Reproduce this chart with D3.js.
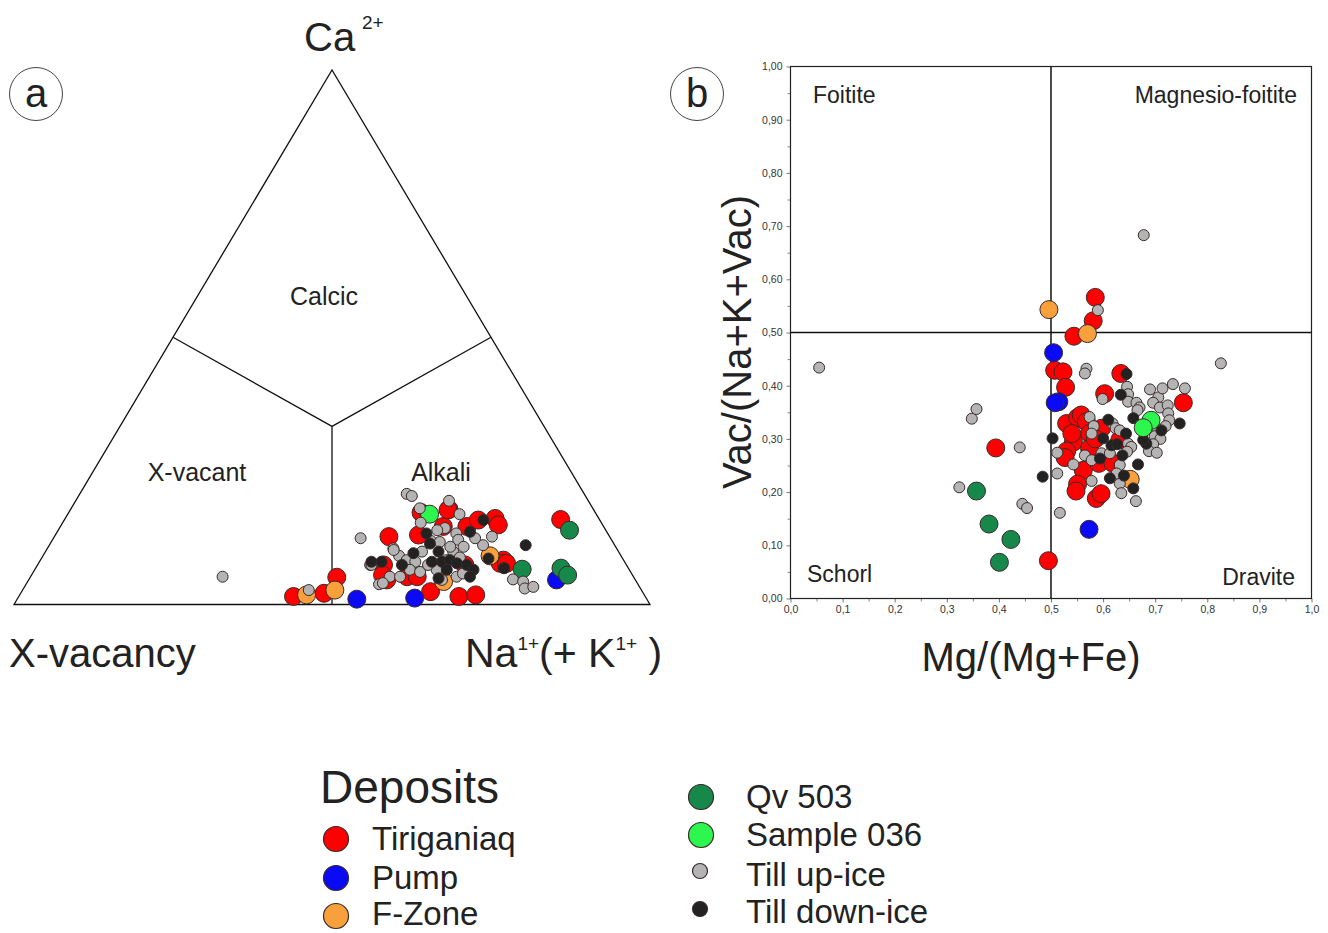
<!DOCTYPE html>
<html>
<head>
<meta charset="utf-8">
<script src="https://cdn.jsdelivr.net/npm/d3@7"></script>
<style>
  html, body { margin: 0; padding: 0; background: #ffffff; }
  svg { display: block; font-family: "Liberation Sans", Arial, sans-serif; }
</style>
</head>
<body>
<svg id="fig" width="1328" height="933"></svg>
<script>
// ---- Series ----
const seriesNames = ["Tiriganiaq", "Pump", "F-Zone", "Qv 503", "Sample 036", "Till up-ice", "Till down-ice"];
const seriesColors = ["#ff0000", "#0a0af5", "#f7a03c", "#16894a", "#2df64e", "#b4b4b4", "#222222"];
const seriesLarge = [true, true, true, true, true, false, false];

// ---- (a) X-site ternary: [Na(+K), Ca]; X-vacancy = 1 - Na - Ca ----
const tiriganiaqX = [[0.432,0.015],[0.477,0.021],[0.482,0.051],[0.643,0.024],[0.692,0.015],[0.717,0.018],[0.526,0.127],[0.554,0.172],[0.595,0.178],[0.602,0.146],[0.571,0.130],[0.639,0.146],[0.651,0.158],[0.676,0.161],[0.687,0.149],[0.728,0.083],[0.544,0.074],[0.592,0.052],[0.563,0.046],[0.726,0.077],[0.780,0.159],[0.552,0.055],[0.608,0.052],[0.736,0.077],[0.672,0.074],[0.594,0.177]];
const pumpX = [[0.534,0.010],[0.624,0.012],[0.830,0.046]];
const fZoneX = [[0.451,0.018],[0.491,0.027],[0.654,0.043],[0.703,0.091]];
const qv503X = [[0.766,0.066],[0.804,0.139],[0.826,0.068],[0.843,0.055]];
const sample036X = [[0.569,0.169]];
const tillUpX = [[0.302,0.052],[0.450,0.027],[0.483,0.124],[0.514,0.207],[0.524,0.203],[0.548,0.180],[0.563,0.153],[0.587,0.194],[0.616,0.169],[0.688,0.127],[0.682,0.111],[0.761,0.047],[0.779,0.043],[0.788,0.030],[0.800,0.033],[0.555,0.038],[0.523,0.074],[0.565,0.052],[0.544,0.105],[0.560,0.091],[0.576,0.083],[0.591,0.080],[0.590,0.065],[0.608,0.061],[0.592,0.099],[0.596,0.119],[0.611,0.117],[0.606,0.143],[0.629,0.133],[0.638,0.121],[0.653,0.108],[0.663,0.124],[0.641,0.099],[0.657,0.088],[0.670,0.052],[0.677,0.058],[0.632,0.065],[0.650,0.046],[0.614,0.074],[0.639,0.083],[0.632,0.108],[0.596,0.139],[0.560,0.040],[0.581,0.052],[0.525,0.074],[0.546,0.102]];
const tillDownX = [[0.659,0.158],[0.649,0.136],[0.749,0.111],[0.736,0.068],[0.703,0.086],[0.538,0.080],[0.573,0.074],[0.582,0.133],[0.597,0.114],[0.618,0.099],[0.633,0.080],[0.644,0.083],[0.658,0.077],[0.648,0.065],[0.675,0.074],[0.690,0.065],[0.643,0.049],[0.617,0.080],[0.580,0.096],[0.691,0.052],[0.522,0.080],[0.737,0.068]];

// ---- (b) Mg/(Mg+Fe) vs Vac/(Na+K+Vac) ----
const tiriganiaqMg = [[0.507,0.429],[0.523,0.426],[0.394,0.283],[0.495,0.071],[0.585,0.566],[0.581,0.522],[0.544,0.493],[0.634,0.423],[0.528,0.397],[0.603,0.385],[0.754,0.368],[0.530,0.329],[0.551,0.340],[0.558,0.345],[0.568,0.332],[0.543,0.294],[0.574,0.310],[0.530,0.277],[0.527,0.265],[0.574,0.282],[0.562,0.241],[0.592,0.254],[0.551,0.215],[0.548,0.202],[0.587,0.188],[0.596,0.197],[0.619,0.254],[0.632,0.298],[0.597,0.320],[0.540,0.310],[0.585,0.300]];
const pumpMg = [[0.505,0.462],[0.515,0.370],[0.508,0.368],[0.573,0.130]];
const fZoneMg = [[0.496,0.543],[0.570,0.498],[0.652,0.224]];
const qv503Mg = [[0.357,0.202],[0.381,0.140],[0.423,0.111],[0.401,0.068]];
const sample036Mg = [[0.692,0.335],[0.677,0.321]];
const tillUpMg = [[0.055,0.434],[0.348,0.338],[0.357,0.356],[0.440,0.284],[0.324,0.209],[0.445,0.178],[0.454,0.170],[0.590,0.542],[0.568,0.432],[0.565,0.423],[0.826,0.442],[0.678,0.683],[0.599,0.375],[0.646,0.398],[0.648,0.384],[0.648,0.370],[0.664,0.368],[0.670,0.359],[0.666,0.354],[0.690,0.393],[0.706,0.378],[0.714,0.395],[0.734,0.403],[0.757,0.395],[0.696,0.368],[0.709,0.359],[0.724,0.363],[0.725,0.348],[0.727,0.335],[0.720,0.324],[0.704,0.318],[0.699,0.305],[0.710,0.300],[0.696,0.290],[0.688,0.277],[0.703,0.274],[0.574,0.341],[0.582,0.324],[0.578,0.310],[0.618,0.329],[0.624,0.320],[0.632,0.316],[0.648,0.291],[0.654,0.285],[0.646,0.276],[0.512,0.274],[0.565,0.269],[0.578,0.260],[0.597,0.273],[0.613,0.273],[0.543,0.252],[0.578,0.221],[0.632,0.251],[0.632,0.216],[0.626,0.235],[0.635,0.198],[0.512,0.235],[0.663,0.183],[0.517,0.161]];
const tillDownMg = [[0.503,0.301],[0.484,0.229],[0.645,0.422],[0.634,0.383],[0.747,0.329],[0.712,0.316],[0.658,0.339],[0.683,0.291],[0.677,0.298],[0.610,0.336],[0.600,0.301],[0.616,0.288],[0.627,0.290],[0.594,0.263],[0.644,0.310],[0.637,0.269],[0.613,0.226],[0.640,0.231],[0.658,0.207],[0.667,0.252]];

// ---- Axis ticks of panel (b) ----
const xTickValues = [0, 0.1, 0.2, 0.3, 0.4, 0.5, 0.6, 0.7, 0.8, 0.9, 1.0];
const yTickValues = [0, 0.1, 0.2, 0.3, 0.4, 0.5, 0.6, 0.7, 0.8, 0.9, 1.0];
const xTickLabels = ["0,0","0,1","0,2","0,3","0,4","0,5","0,6","0,7","0,8","0,9","1,0"];
const yTickLabels = ["0,00","0,10","0,20","0,30","0,40","0,50","0,60","0,70","0,80","0,90","1,00"];

const ternarySets = [tiriganiaqX, pumpX, fZoneX, qv503X, sample036X, tillUpX, tillDownX];
const binarySets = [tiriganiaqMg, pumpMg, fZoneMg, qv503Mg, sample036Mg, tillUpMg, tillDownMg];

const svg = d3.select("#fig");
svg.append("rect").attr("width", 1328).attr("height", 933).attr("fill", "#ffffff");

const R_BIG = 9, R_SMALL = 5.5;
const OUTLINE = "#3a2a2a";

// ================= (a) ternary =================
// projected coordinate u = Na + Ca/2 across the base, Ca up the height
const tx = d3.scaleLinear().domain([0, 1]).range([14, 650]);
const ty = d3.scaleLinear().domain([0, 1]).range([604.5, 70]);
const tern = (na, ca) => [tx(na + ca / 2), ty(ca)];

const gA = svg.append("g");
const line = d3.line();
// outer triangle: X-vacancy, Na, Ca corners
gA.append("path")
  .attr("d", line([tern(0, 0), tern(1, 0), tern(0, 1)]) + "Z")
  .attr("fill", "none").attr("stroke", "#111").attr("stroke-width", 1.3);
// field boundaries through the centroid
const centroid = tern(1 / 3, 1 / 3);
[[tern(0, 0.5), centroid], [tern(0.5, 0.5), centroid], [tern(0.5, 0), centroid]].forEach(seg => {
  gA.append("path").attr("d", line(seg))
    .attr("fill", "none").attr("stroke", "#111").attr("stroke-width", 1.3);
});

gA.append("text").attr("x", 324).attr("y", 305).attr("text-anchor", "middle")
  .attr("font-size", 25).attr("fill", "#222").text("Calcic");
gA.append("text").attr("x", 197).attr("y", 481).attr("text-anchor", "middle")
  .attr("font-size", 25).attr("fill", "#222").text("X-vacant");
gA.append("text").attr("x", 441).attr("y", 481).attr("text-anchor", "middle")
  .attr("font-size", 25).attr("fill", "#222").text("Alkali");

// apex and corner labels
gA.append("text").attr("x", 304).attr("y", 51).attr("font-size", 40).attr("fill", "#222").text("Ca");
gA.append("text").attr("x", 362).attr("y", 29).attr("font-size", 19).attr("fill", "#222").text("2+");
gA.append("text").attr("x", 9).attr("y", 667).attr("font-size", 40).attr("fill", "#222").text("X-vacancy");
const naLab = gA.append("text").attr("x", 465).attr("y", 667).attr("font-size", 41).attr("fill", "#222");
naLab.append("tspan").text("Na");
naLab.append("tspan").attr("font-size", 19).attr("dy", -17).text("1+");
naLab.append("tspan").attr("dy", 17).text("(+ K");
naLab.append("tspan").attr("font-size", 19).attr("dy", -17).text("1+");
naLab.append("tspan").attr("dy", 17).text(" )");

// panel tag a
gA.append("circle").attr("cx", 36).attr("cy", 94).attr("r", 26.5)
  .attr("fill", "none").attr("stroke", "#444").attr("stroke-width", 1);
gA.append("text").attr("x", 36).attr("y", 107).attr("text-anchor", "middle")
  .attr("font-size", 40).attr("fill", "#222").text("a");

const orderA = [0, 1, 2, 3, 4, 5, 6];
orderA.forEach(i => {
  gA.append("g").selectAll("circle").data(ternarySets[i]).join("circle")
    .attr("cx", d => tern(d[0], d[1])[0])
    .attr("cy", d => tern(d[0], d[1])[1])
    .attr("r", seriesLarge[i] ? R_BIG : R_SMALL)
    .attr("fill", seriesColors[i])
    .attr("stroke", OUTLINE).attr("stroke-width", 1);
});

// ================= (b) Mg/(Mg+Fe) vs Vac/(Na+K+Vac) =================
const bx = d3.scaleLinear().domain([0, 1]).range([790.5, 1311.5]);
const by = d3.scaleLinear().domain([0, 1]).range([598.5, 66.5]);
const gB = svg.append("g");

// minor ticks
const minorVals = d3.range(0.05, 1, 0.1);
gB.append("g").attr("transform", "translate(0,598.5)")
  .call(d3.axisBottom(bx).tickValues(minorVals).tickSize(3).tickFormat(""))
  .call(g => g.select(".domain").remove())
  .call(g => g.selectAll("line").attr("stroke", "#888"));
gB.append("g").attr("transform", "translate(790.5,0)")
  .call(d3.axisLeft(by).tickValues(minorVals).tickSize(3).tickFormat(""))
  .call(g => g.select(".domain").remove())
  .call(g => g.selectAll("line").attr("stroke", "#888"));

// major ticks and labels
gB.append("g").attr("transform", "translate(0,598.5)")
  .call(d3.axisBottom(bx).tickValues(xTickValues).tickSize(4).tickPadding(3)
    .tickFormat((d, i) => xTickLabels[i]))
  .call(g => g.select(".domain").remove())
  .call(g => g.selectAll("line").attr("stroke", "#777"))
  .call(g => g.selectAll("text").attr("font-size", 10.5).attr("fill", "#333")
    .attr("font-family", "'Liberation Sans', Arial, sans-serif"));
gB.append("g").attr("transform", "translate(790.5,0)")
  .call(d3.axisLeft(by).tickValues(yTickValues).tickSize(4).tickPadding(4)
    .tickFormat((d, i) => yTickLabels[i]))
  .call(g => g.select(".domain").remove())
  .call(g => g.selectAll("line").attr("stroke", "#777"))
  .call(g => g.selectAll("text").attr("font-size", 10.5).attr("fill", "#333")
    .attr("font-family", "'Liberation Sans', Arial, sans-serif"));

// frame and the 0.5 field dividers
gB.append("rect").attr("x", bx(0)).attr("y", by(1))
  .attr("width", bx(1) - bx(0)).attr("height", by(0) - by(1))
  .attr("fill", "none").attr("stroke", "#222").attr("stroke-width", 1.2);
gB.append("line").attr("x1", bx(0.5)).attr("x2", bx(0.5)).attr("y1", by(0)).attr("y2", by(1))
  .attr("stroke", "#111").attr("stroke-width", 1.5);
gB.append("line").attr("x1", bx(0)).attr("x2", bx(1)).attr("y1", by(0.5)).attr("y2", by(0.5))
  .attr("stroke", "#111").attr("stroke-width", 1.5);

gB.append("text").attr("x", 813).attr("y", 103).attr("font-size", 23).attr("fill", "#222").text("Foitite");
gB.append("text").attr("x", 1297).attr("y", 103).attr("text-anchor", "end").attr("font-size", 23).attr("fill", "#222").text("Magnesio-foitite");
gB.append("text").attr("x", 807).attr("y", 582).attr("font-size", 23).attr("fill", "#222").text("Schorl");
gB.append("text").attr("x", 1295).attr("y", 585).attr("text-anchor", "end").attr("font-size", 23).attr("fill", "#222").text("Dravite");

gB.append("text").attr("x", 1031).attr("y", 671).attr("text-anchor", "middle")
  .attr("font-size", 40).attr("fill", "#222").text("Mg/(Mg+Fe)");
gB.append("text").attr("transform", "translate(751,342) rotate(-90)").attr("text-anchor", "middle")
  .attr("font-size", 40).attr("fill", "#222").text("Vac/(Na+K+Vac)");

// panel tag b
gB.append("circle").attr("cx", 697).attr("cy", 94).attr("r", 26.5)
  .attr("fill", "none").attr("stroke", "#444").attr("stroke-width", 1);
gB.append("text").attr("x", 697).attr("y", 107).attr("text-anchor", "middle")
  .attr("font-size", 40).attr("fill", "#222").text("b");

const orderB = [0, 1, 2, 3, 5, 6, 4];
orderB.forEach(i => {
  gB.append("g").selectAll("circle").data(binarySets[i]).join("circle")
    .attr("cx", d => bx(d[0]))
    .attr("cy", d => by(d[1]))
    .attr("r", seriesLarge[i] ? R_BIG : R_SMALL)
    .attr("fill", seriesColors[i])
    .attr("stroke", OUTLINE).attr("stroke-width", 1);
});

// ================= legend =================
const gL = svg.append("g");
gL.append("text").attr("x", 320).attr("y", 803).attr("font-size", 46).attr("fill", "#222").text("Deposits");
const legendPos = [
  {cx: 336, cy: 839, tx: 372, ty: 850},
  {cx: 336, cy: 878, tx: 372, ty: 889},
  {cx: 336, cy: 916, tx: 372, ty: 925},
  {cx: 701, cy: 797, tx: 746, ty: 808},
  {cx: 701, cy: 835, tx: 746, ty: 846},
  {cx: 700, cy: 871, tx: 746, ty: 886},
  {cx: 700, cy: 909, tx: 746, ty: 923}
];
seriesNames.forEach((name, i) => {
  const p = legendPos[i];
  gL.append("circle").attr("cx", p.cx).attr("cy", p.cy)
    .attr("r", seriesLarge[i] ? 12.5 : 7.5)
    .attr("fill", seriesColors[i]).attr("stroke", OUTLINE).attr("stroke-width", 1.2);
  gL.append("text").attr("x", p.tx).attr("y", p.ty).attr("font-size", 33).attr("fill", "#222").text(name);
});
</script>
</body>
</html>
